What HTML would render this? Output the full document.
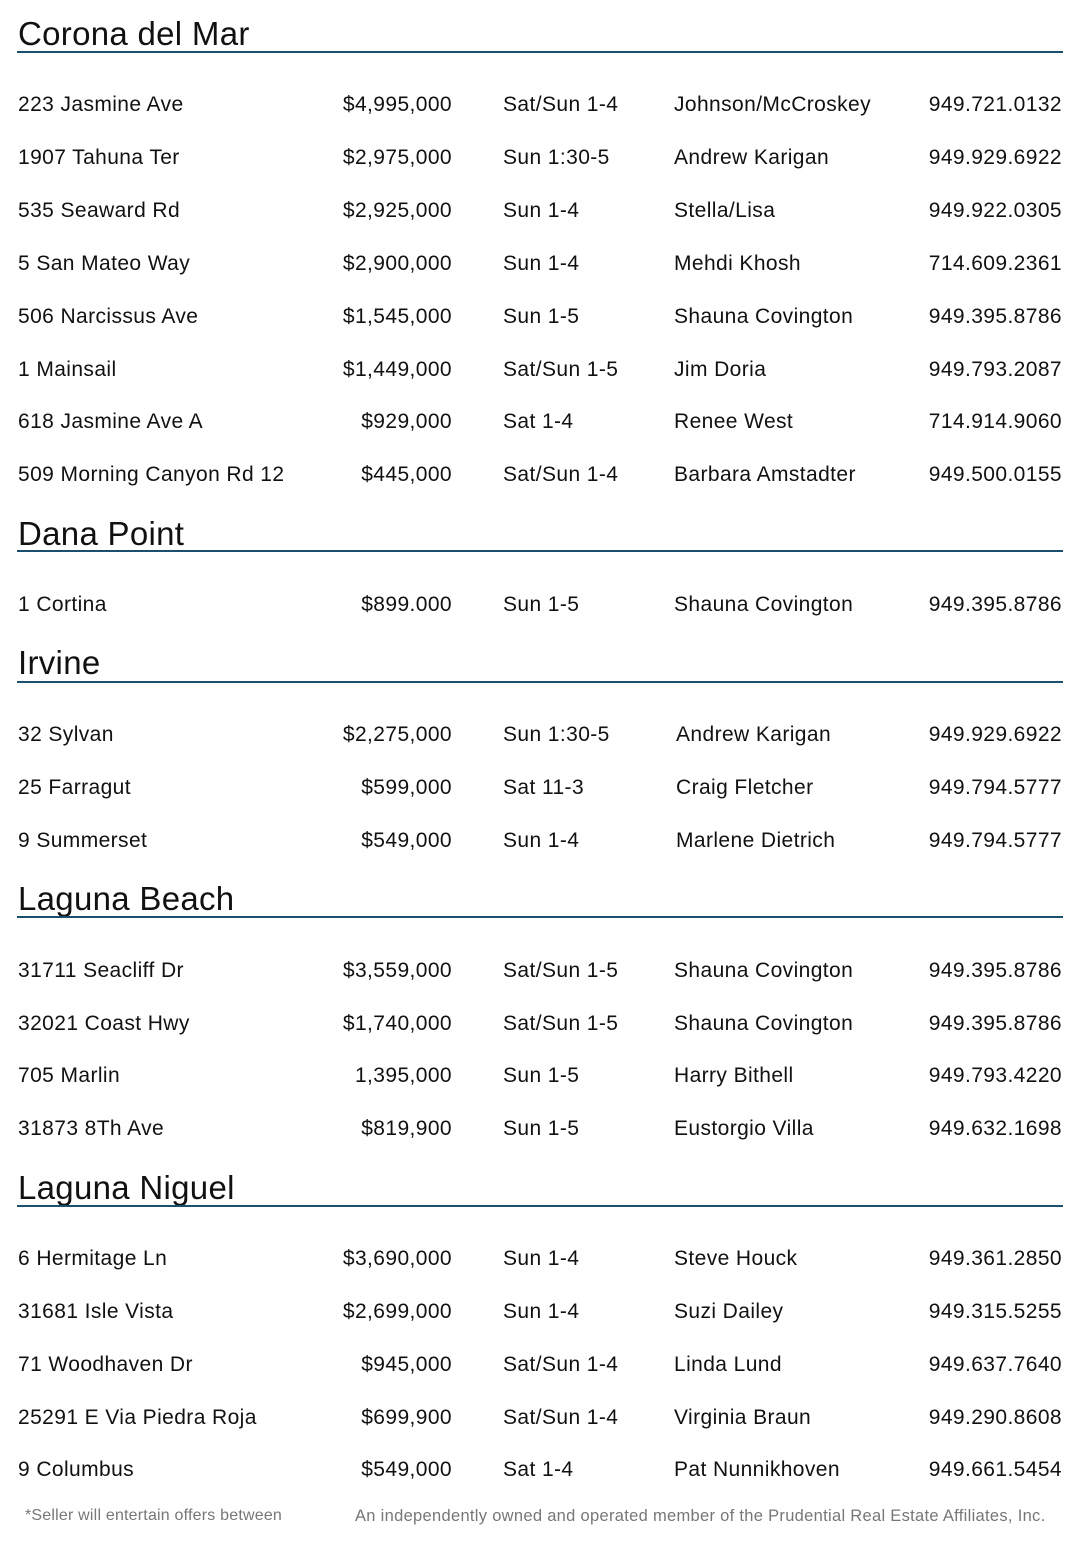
<!DOCTYPE html>
<html><head><meta charset="utf-8"><style>
body{margin:0;width:1078px;height:1554px;background:#fff;position:relative;font-family:"Liberation Sans",sans-serif;color:#111;overflow:hidden}
.h{position:absolute;left:18px;font-size:33px;line-height:40px;height:40px;letter-spacing:0.3px}
.l{position:absolute;left:17px;width:1046px;height:2px;background:#1b4f6e}
.r{position:absolute;left:0;width:1078px;height:26px;line-height:26px;font-size:21px;letter-spacing:0.4px}
.r span{position:absolute;white-space:nowrap}
.a{left:18px}.p{right:626px;text-align:right}.t{left:503px}.g{left:674px}.ph{right:16px}
.f{position:absolute;top:1506px;font-size:16px;color:#777;line-height:20px;white-space:nowrap}
</style></head><body>
<div class="h" style="top:14px">Corona del Mar</div><div class="l" style="top:51px"></div>
<div class="r" style="top:92px"><span class="a">223 Jasmine Ave</span><span class="p">$4,995,000</span><span class="t">Sat/Sun 1-4</span><span class="g">Johnson/McCroskey</span><span class="ph">949.721.0132</span></div>
<div class="r" style="top:145px"><span class="a">1907 Tahuna Ter</span><span class="p">$2,975,000</span><span class="t">Sun 1:30-5</span><span class="g">Andrew Karigan</span><span class="ph">949.929.6922</span></div>
<div class="r" style="top:198px"><span class="a">535 Seaward Rd</span><span class="p">$2,925,000</span><span class="t">Sun 1-4</span><span class="g">Stella/Lisa</span><span class="ph">949.922.0305</span></div>
<div class="r" style="top:251px"><span class="a">5 San Mateo Way</span><span class="p">$2,900,000</span><span class="t">Sun 1-4</span><span class="g">Mehdi Khosh</span><span class="ph">714.609.2361</span></div>
<div class="r" style="top:304px"><span class="a">506 Narcissus Ave</span><span class="p">$1,545,000</span><span class="t">Sun 1-5</span><span class="g">Shauna Covington</span><span class="ph">949.395.8786</span></div>
<div class="r" style="top:357px"><span class="a">1 Mainsail</span><span class="p">$1,449,000</span><span class="t">Sat/Sun 1-5</span><span class="g">Jim Doria</span><span class="ph">949.793.2087</span></div>
<div class="r" style="top:409px"><span class="a">618 Jasmine Ave A</span><span class="p">$929,000</span><span class="t">Sat 1-4</span><span class="g">Renee West</span><span class="ph">714.914.9060</span></div>
<div class="r" style="top:462px"><span class="a">509 Morning Canyon Rd 12</span><span class="p">$445,000</span><span class="t">Sat/Sun 1-4</span><span class="g">Barbara Amstadter</span><span class="ph">949.500.0155</span></div>

<div class="h" style="top:514px">Dana Point</div><div class="l" style="top:550px"></div>
<div class="r" style="top:592px"><span class="a">1 Cortina</span><span class="p">$899.000</span><span class="t">Sun 1-5</span><span class="g">Shauna Covington</span><span class="ph">949.395.8786</span></div>

<div class="h" style="top:643px">Irvine</div><div class="l" style="top:681px"></div>
<div class="r" style="top:722px"><span class="a">32 Sylvan</span><span class="p">$2,275,000</span><span class="t">Sun 1:30-5</span><span class="g" style="left:676px">Andrew Karigan</span><span class="ph">949.929.6922</span></div>
<div class="r" style="top:775px"><span class="a">25 Farragut</span><span class="p">$599,000</span><span class="t">Sat 11-3</span><span class="g" style="left:676px">Craig Fletcher</span><span class="ph">949.794.5777</span></div>
<div class="r" style="top:828px"><span class="a">9 Summerset</span><span class="p">$549,000</span><span class="t">Sun 1-4</span><span class="g" style="left:676px">Marlene Dietrich</span><span class="ph">949.794.5777</span></div>

<div class="h" style="top:879px">Laguna Beach</div><div class="l" style="top:916px"></div>
<div class="r" style="top:958px"><span class="a">31711 Seacliff Dr</span><span class="p">$3,559,000</span><span class="t">Sat/Sun 1-5</span><span class="g">Shauna Covington</span><span class="ph">949.395.8786</span></div>
<div class="r" style="top:1011px"><span class="a">32021 Coast Hwy</span><span class="p">$1,740,000</span><span class="t">Sat/Sun 1-5</span><span class="g">Shauna Covington</span><span class="ph">949.395.8786</span></div>
<div class="r" style="top:1063px"><span class="a">705 Marlin</span><span class="p">1,395,000</span><span class="t">Sun 1-5</span><span class="g">Harry Bithell</span><span class="ph">949.793.4220</span></div>
<div class="r" style="top:1116px"><span class="a">31873 8Th Ave</span><span class="p">$819,900</span><span class="t">Sun 1-5</span><span class="g">Eustorgio Villa</span><span class="ph">949.632.1698</span></div>

<div class="h" style="top:1168px">Laguna Niguel</div><div class="l" style="top:1205px"></div>
<div class="r" style="top:1246px"><span class="a">6 Hermitage Ln</span><span class="p">$3,690,000</span><span class="t">Sun 1-4</span><span class="g">Steve Houck</span><span class="ph">949.361.2850</span></div>
<div class="r" style="top:1299px"><span class="a">31681 Isle Vista</span><span class="p">$2,699,000</span><span class="t">Sun 1-4</span><span class="g">Suzi Dailey</span><span class="ph">949.315.5255</span></div>
<div class="r" style="top:1352px"><span class="a">71 Woodhaven Dr</span><span class="p">$945,000</span><span class="t">Sat/Sun 1-4</span><span class="g">Linda Lund</span><span class="ph">949.637.7640</span></div>
<div class="r" style="top:1405px"><span class="a">25291 E Via Piedra Roja</span><span class="p">$699,900</span><span class="t">Sat/Sun 1-4</span><span class="g">Virginia Braun</span><span class="ph">949.290.8608</span></div>
<div class="r" style="top:1457px"><span class="a">9 Columbus</span><span class="p">$549,000</span><span class="t">Sat 1-4</span><span class="g">Pat Nunnikhoven</span><span class="ph">949.661.5454</span></div>

<div class="f" style="left:25px;font-size:16px;letter-spacing:0.2px">*Seller will entertain offers between</div>
<div class="f" style="left:355px;font-size:16.5px;letter-spacing:0.3px">An independently owned and operated member of the Prudential Real Estate Affiliates, Inc.</div>
</body></html>
